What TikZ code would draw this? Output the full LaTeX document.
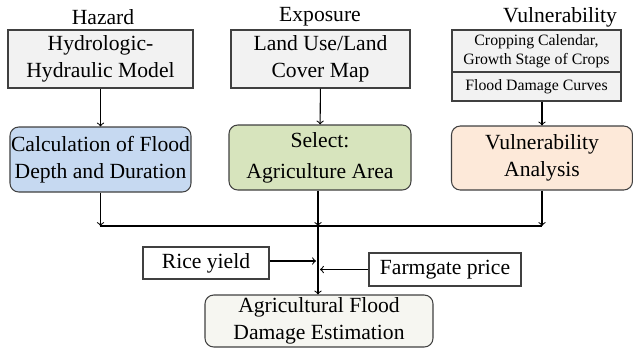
\documentclass[tikz,border=0pt]{standalone}
\usepackage{fontspec}
\setmainfont{Liberation Serif}
\tikzset{
  box/.style={draw=black!75, line width=0.6pt, align=center, inner sep=0pt, font=\fontsize{12.3}{15.5}\selectfont},
  smallbox/.style={box, font=\fontsize{9}{10.8}\selectfont},
  roundbox/.style={box, rounded corners=5pt},
  head/.style={font=\fontsize{12.3}{14}\selectfont},
  flow/.style={line width=0.6pt, ->},
}
\begin{document}
\begin{tikzpicture}

\useasboundingbox (0,0) rectangle (12.66,7);

\node[head] (hazard) at (2.06,6.66) {Hazard};
\node[box, fill=black!5, minimum width=3.7cm, minimum height=1.16cm] (hydro) at (2.01,5.82) {Hydrologic-\\Hydraulic Model};
\node[roundbox, fill={rgb,255:red,198;green,217;blue,241}, minimum width=3.62cm, minimum height=1.3cm] (calc) at (2.01,3.81) {Calculation of Flood\\Depth and Duration};
\draw[flow] (hydro) to (calc);

\node[head] (exposure) at (6.4,6.66) {Exposure};
\node[box, fill=black!5, minimum width=3.58cm, minimum height=1.16cm] (landuse) at (6.41,5.82) {Land Use/Land\\Cover Map};
\node[roundbox, fill={rgb,255:red,215;green,228;blue,189}, minimum width=3.64cm, minimum height=1.3cm] (select) at (6.4,3.85) {Select:\\[2pt]Agriculture Area};
\draw[flow] (landuse) to (select);

\node[head] (vulnerability) at (11.2,6.66) {Vulnerability};
\node[smallbox, fill=black!5, minimum width=3.38cm, minimum height=0.84cm] (crop) at (10.73,5.98) {Cropping Calendar,\\Growth Stage of Crops};
\node[smallbox, fill=black!5, minimum width=3.38cm, minimum height=0.58cm] (curves) at (10.73,5.27) {Flood Damage Curves};
\node[roundbox, fill={rgb,255:red,253;green,233;blue,217}, minimum width=3.62cm, minimum height=1.28cm] (vuln) at (10.84,3.84) {Vulnerability\\Analysis};
\draw[flow] (curves.south -| vuln) to (vuln);

\coordinate (merge) at (6.36,2.48);
\draw[flow] (calc) to (calc |- merge);
\draw[flow] (select.south -| merge) to (merge);
\draw[flow] (vuln) to (vuln |- merge);
\draw[line width=0.6pt] (calc |- merge) to (vuln |- merge);

\node[box, minimum width=2.52cm, minimum height=0.64cm] (rice) at (4.12,1.74) {Rice yield};
\node[box, minimum width=3.04cm, minimum height=0.66cm] (farm) at (8.9,1.61) {Farmgate price};
\node[roundbox, fill={rgb,255:red,246;green,246;blue,241}, minimum width=4.56cm, minimum height=1.04cm] (est) at (6.38,0.58) {Agricultural Flood\\Damage Estimation};

\draw[flow] (merge) to (est.north -| merge);
\draw[flow] ([yshift=0.04cm]rice.east) to ([xshift=-0.04cm,yshift=0.04cm]rice.east -| merge);
\draw[flow] (farm.west) to ([xshift=0.04cm]farm.west -| merge);

\end{tikzpicture}
\end{document}
